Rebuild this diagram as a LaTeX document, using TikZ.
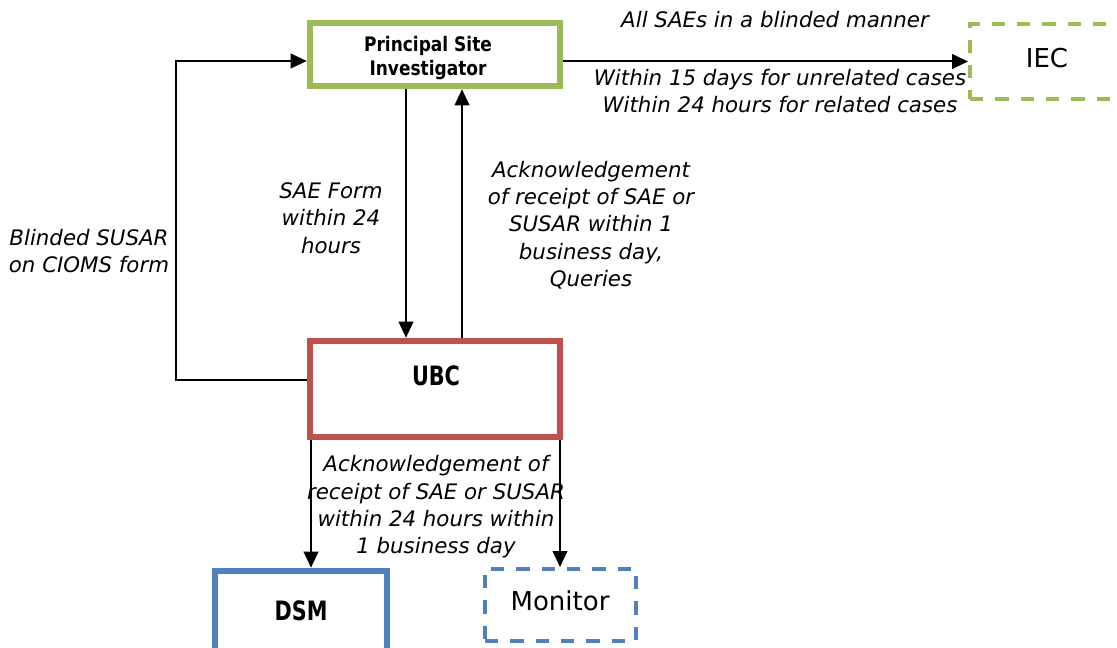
\documentclass[tikz,border=0pt]{standalone}
\usepackage{fontspec}
\setmainfont{DejaVu Sans}
\newfontfamily\condA[FakeStretch=0.85]{DejaVu Sans}
\newfontfamily\condB[FakeStretch=0.78]{DejaVu Sans}
\usetikzlibrary{arrows.meta}
\definecolor{pgreen}{HTML}{9BBB59}
\definecolor{pred}{HTML}{C0504D}
\definecolor{pblue}{HTML}{4F81BD}
\begin{document}
\begin{tikzpicture}[x=0.75pt,y=-0.75pt,
  solidbox/.style={draw=#1,line width=5pt,fill=white,inner sep=0pt},
  dashbox/.style={draw=#1,line width=3pt,dash pattern=on 10pt off 9pt,fill=white,inner sep=0pt},
  arr/.style={line width=1.5pt,-{Triangle[length=12pt,width=11pt]}},
  lbl/.style={font=\fontsize{16}{20.5}\selectfont\itshape,align=center,inner sep=0pt},
  boldA/.style={font=\fontsize{15}{18}\selectfont\condA\bfseries,align=center,inner sep=0pt},
  boldB/.style={font=\fontsize{20}{22}\selectfont\condB\bfseries,align=center,inner sep=0pt},
  plain/.style={font=\fontsize{19.5}{22}\selectfont,inner sep=0pt}]
\fill[white] (0,0) rectangle (1117,648);
\useasboundingbox (0,0) rectangle (1117,648);
% boxes
\node[solidbox=pgreen,minimum width=250*0.75pt,minimum height=63*0.75pt] (psi) at (435,54.5) {};
\node[boldA] (psitxt) at (428,58) {Principal Site\\Investigator};
\node[dashbox=pgreen,minimum width=170*0.75pt,minimum height=75*0.75pt] (iec) at (1055,61.5) {};
\node[plain] (iectxt) at (1047,58) {IEC};
\node[solidbox=pred,minimum width=250*0.75pt,minimum height=96*0.75pt] (ubc) at (435,389) {};
\node[boldB] (ubctxt) at (436,376) {UBC};
\node[solidbox=pblue,minimum width=172*0.75pt,minimum height=90*0.75pt] (dsm) at (301,616) {};
\node[boldB] (dsmtxt) at (301,611) {DSM};
\node[dashbox=pblue,minimum width=151*0.75pt,minimum height=72*0.75pt] (mon) at (560.5,605) {};
\node[plain] (montxt) at (560,601) {Monitor};
% helper coordinates
\coordinate (lc1) at (176,380);
\coordinate (lc2) at (176,61);
\coordinate (dn) at (406,0);
\coordinate (up) at (462,0);
\coordinate (dl) at (311,0);
\coordinate (dr) at (560,0);
% connectors
\draw[arr] (psi.east |- iec.west) -- (iec.west);
\draw[arr] (ubc.west |- lc1) -- (lc1) -- (lc2) -- (psi.west |- lc2);
\draw[arr] (psi.south -| dn) -- (ubc.north -| dn);
\draw[arr] (ubc.north -| up) -- (psi.south -| up);
\draw[arr] (ubc.south -| dl) -- (dsm.north -| dl);
\draw[arr] (ubc.south -| dr) -- (mon.north -| dr);
% labels
\node[lbl] (l1) at (775,20) {All SAEs in a blinded manner};
\node[lbl] (l2) at (780,91) {Within 15 days for unrelated cases\\Within 24 hours for related cases};
\node[lbl] (l3) at (89,251) {Blinded SUSAR\\on CIOMS form};
\node[lbl] (l4) at (331,218) {SAE Form\\within 24\\hours};
\node[lbl] (l5) at (591,225) {Acknowledgement\\of receipt of SAE or\\SUSAR within 1\\business day,\\Queries};
\node[lbl] (l6) at (436,507) {Acknowledgement of\\receipt of SAE or SUSAR\\within 24 hours within\\1 business day};
\end{tikzpicture}
\end{document}
